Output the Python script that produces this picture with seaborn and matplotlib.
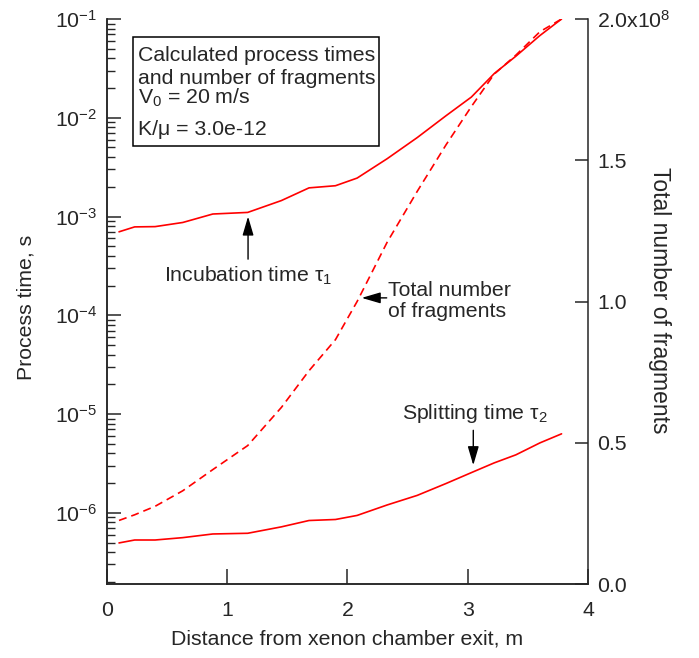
import numpy as np
import pandas as pd
import matplotlib
matplotlib.use('Agg')
import matplotlib.pyplot as plt
import matplotlib.ticker as mticker
from matplotlib.patches import Rectangle
import seaborn as sns

# distance from the xenon chamber exit, m
distance = [0.1, 0.23, 0.4, 0.63, 0.88, 1.17, 1.45, 1.68, 1.9, 2.08,
            2.33, 2.58, 2.82, 3.03, 3.22, 3.4, 3.6, 3.78]
# incubation time tau_1, s
incubation = [7.0e-4, 7.85e-4, 7.9e-4, 8.7e-4, 1.06e-3, 1.1e-3, 1.45e-3, 1.95e-3, 2.05e-3, 2.45e-3,
              3.85e-3, 6.3e-3, 1.05e-2, 1.62e-2, 2.8e-2, 4.2e-2, 6.8e-2, 1.0e-1]
# splitting time tau_2, s
splitting = [4.95e-7, 5.3e-7, 5.3e-7, 5.6e-7, 6.1e-7, 6.2e-7, 7.2e-7, 8.35e-7, 8.55e-7, 9.4e-7,
             1.2e-6, 1.5e-6, 1.98e-6, 2.55e-6, 3.2e-6, 3.86e-6, 5.1e-6, 6.3e-6]
# total number of fragments, x1e8
fragments = [0.225, 0.245, 0.275, 0.33, 0.405, 0.49, 0.625, 0.755, 0.865, 1.0,
             1.21, 1.39, 1.555, 1.69, 1.805, 1.872, 1.955, 2.0]

right_ticks = [0.0, 0.5, 1.0, 1.5, 2.0]
right_labels = ['0.0', '0.5', '1.0', '1.5', '2.0x10$^8$']
box_lines = ['Calculated process times', 'and number of fragments', 'V$_0$ = 20 m/s', 'K/\u03bc = 3.0e-12']

df = pd.DataFrame({'distance': distance, 'incubation': incubation,
                   'splitting': splitting, 'fragments': np.array(fragments) * 1e8})

sns.set_style('ticks')
plt.rcParams['font.family'] = ['Liberation Sans', 'DejaVu Sans']
plt.rcParams['mathtext.fontset'] = 'custom'
plt.rcParams['mathtext.rm'] = 'Liberation Sans'
plt.rcParams['mathtext.it'] = 'Liberation Sans:italic'
FS = 15.3
plt.rcParams['font.size'] = FS

W, H = 699, 658


def fxy(px, py):
    # pixel position -> figure fraction
    return px / W, 1 - py / H


fig = plt.figure(figsize=(W / 100, H / 100), dpi=100)
ax = fig.add_axes([107 / W, 1 - 584 / H, 481 / W, 565 / H])
ax2 = ax.twinx()

sns.lineplot(data=df, x='distance', y='incubation', ax=ax, color='red', lw=1.2)
sns.lineplot(data=df, x='distance', y='splitting', ax=ax, color='red', lw=1.2)
sns.lineplot(data=df, x='distance', y='fragments', ax=ax2, color='red', lw=1.2)
ax2.lines[0].set_dashes([4.8, 3.0])

ax.set_yscale('log')
ax.set_xlim(0, 4)
ax.set_ylim(1.9e-7, 1e-1)
ax.set_xticks([0, 1, 2, 3, 4])
ax.yaxis.set_major_locator(mticker.LogLocator(base=10, numticks=10))
ax.yaxis.set_minor_locator(mticker.LogLocator(base=10, subs=np.arange(2, 10), numticks=20))
ax.yaxis.set_minor_formatter(mticker.NullFormatter())

ax2.set_ylim(0, 2e8)
ax2.set_yticks([v * 1e8 for v in right_ticks])
ax2.set_yticklabels(right_labels)

for a in (ax, ax2):
    a.spines['top'].set_visible(False)
    for s in a.spines.values():
        s.set_linewidth(1.1)
ax.spines['right'].set_visible(False)

ax.tick_params(axis='both', which='major', direction='in', width=1.1,
               labelsize=FS, top=False, right=False)
ax.tick_params(axis='y', which='major', length=10, pad=7)
ax.tick_params(axis='y', which='minor', direction='in', length=5.5, width=1.0)
ax.tick_params(axis='x', which='major', length=10.5, pad=12)
ax2.tick_params(axis='y', direction='in', length=9.6, width=1.1, labelsize=FS, pad=6.5)

ax.set_xlabel('Distance from xenon chamber exit, m', fontsize=FS)
ax.xaxis.set_label_coords(0.5, -0.08)
ax.set_ylabel('Process time, s', fontsize=FS)
ax.yaxis.set_label_coords(-0.148, 0.49)
ax2.set_ylabel('')
fig.text(*fxy(660, 300), 'Total number of fragments', rotation=270, ha='center', va='center', fontsize=16.5)

# info box
x0, y0 = fxy(133, 146)
x1, y1 = fxy(379, 37)
fig.patches.append(Rectangle((x0, y0), x1 - x0, y1 - y0, transform=fig.transFigure,
                             fc='white', ec='black', lw=1.1, zorder=5))
for txt, base in zip(box_lines, [61, 83.5, 103.5, 135]):
    fig.text(*fxy(137.5, base), txt, ha='left', va='baseline', fontsize=FS, zorder=6)

# annotations
arrow = dict(arrowstyle='-|>,head_length=0.75,head_width=0.22', color='black', lw=1, shrinkA=0, shrinkB=0)
ax.annotate('', xy=(1.173, 1.0e-3), xytext=(1.173, 3.7e-4), arrowprops=arrow)
ax.text(1.173, 2.17e-4, 'Incubation time \u03c4$_1$', ha='center', va='baseline', fontsize=FS)

ax.annotate('', xy=(2.118, 1.5e-4), xytext=(2.326, 1.5e-4), arrowprops=arrow)
ax.text(2.337, 1.58e-4, 'Total number', ha='left', va='baseline', fontsize=FS)
ax.text(2.337, 9.6e-5, 'of fragments', ha='left', va='baseline', fontsize=FS)

ax.annotate('', xy=(3.046, 3.03e-6), xytext=(3.046, 6.84e-6), arrowprops=arrow)
ax.text(2.45, 8.85e-6, 'Splitting time \u03c4$_2$', ha='left', va='baseline', fontsize=FS)

fig.savefig('out.png', dpi=100)
